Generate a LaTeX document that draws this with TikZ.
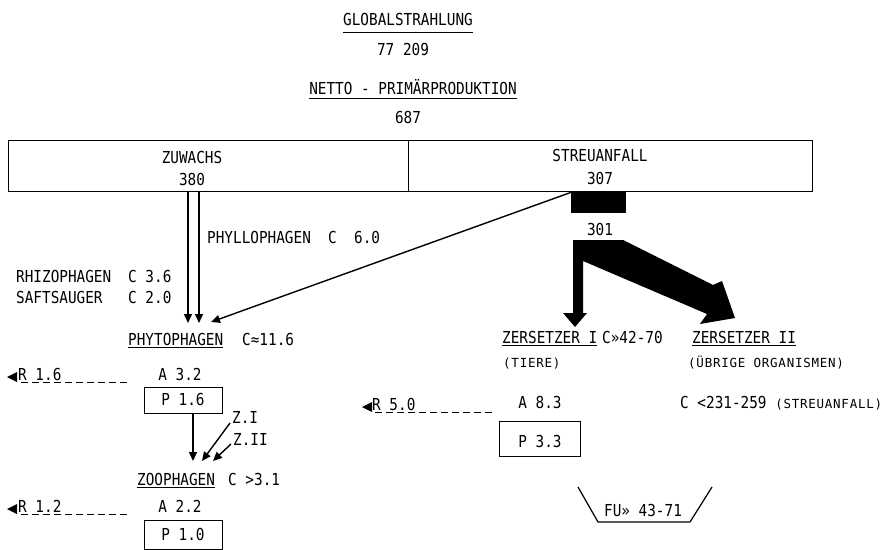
\documentclass[tikz,border=0pt]{standalone}
\usepackage{fontspec}
\setmainfont{DejaVu Sans Mono}[FakeStretch=0.87]
\newfontfamily\scfont{DejaVu Sans Mono}[LetterSpace=6]
\usetikzlibrary{arrows.meta}
\tikzset{
  txt/.style={inner sep=0pt, anchor=base},
  ltxt/.style={inner sep=0pt, anchor=base west},
  sctxt/.style={inner sep=0pt, anchor=base west, font=\scfont\fontsize{12.5}{14}\selectfont},
  frame/.style={draw, line width=1.2pt, inner sep=0pt, anchor=north west},
  arr/.style={line width=1.4pt, -{Triangle[length=9pt,width=8pt]}},
  resp/.style={line width=1pt, dash pattern=on 7pt off 4pt},
  uline/.style={line width=0.9pt}
}
\newcommand{\uline}[2][2]{\draw[uline] ([yshift=-#1pt]#2.base west) -- ([yshift=-#1pt]#2.base east);}
\begin{document}
\begin{tikzpicture}[x=1pt,y=-1pt,font=\fontsize{16.5}{18}\selectfont]
\useasboundingbox (0,0) rectangle (893,549);

% top titles
\node[txt] (glob) at (408,25) {GLOBALSTRAHLUNG};
\uline[7]{glob}
\node[txt] (gval) at (403,55) {77 209};
\node[txt] (npp) at (413,94) {NETTO - PRIMÄRPRODUKTION};
\uline[4]{npp}
\node[txt] (npv) at (408,123) {687};

% big box
\node[frame, minimum width=400pt, minimum height=51pt] (zuwbox) at (8,140) {};
\node[frame, minimum width=404pt, minimum height=51pt] (strbox) at (408,140) {};
\node[txt] (zuw) at (192,163) {ZUWACHS};
\node[txt] (zuwv) at (192,185) {380};
\node[txt] (str) at (600,161) {STREUANFALL};
\node[txt] (strv) at (600,184) {307};

% black block and 301
\node[fill=black, inner sep=0pt, minimum width=55pt, minimum height=22pt, anchor=north west] (blk) at (571,191) {};
\node[txt] (v301) at (600,235) {301};

% thick arrows
\fill (573,240) -- (623,240) -- (713,285) -- (722,281) -- (735,318) -- (700,324) -- (707,314)
      -- (583,261) -- (583,313) -- (587,313) -- (575,327) -- (563,313) -- (573,313) -- cycle;

% phytophagen inflows
\coordinate (a1s) at (188,191); \coordinate (a1e) at (188,323);
\coordinate (a2s) at (199,191); \coordinate (a2e) at (199,323);
\coordinate (a3s) at (572,192); \coordinate (a3e) at (211,322);
\draw[arr] (a1s) -- (a1e);
\draw[arr] (a2s) -- (a2e);
\draw[arr] (a3s) -- (a3e);

\node[ltxt] (phyl) at (207,243) {PHYLLOPHAGEN~~C~~6.0};
\node[ltxt] (rhiz) at (16,282) {RHIZOPHAGEN};
\node[ltxt] (rhizc) at (128,282) {C 3.6};
\node[ltxt] (saft) at (16,303) {SAFTSAUGER};
\node[ltxt] (saftc) at (128,303) {C 2.0};

\node[ltxt] (phyt) at (128,345) {PHYTOPHAGEN};
\uline{phyt}
\node[ltxt] (phytc) at (242,345) {C≈11.6};

% Zersetzer
\node[ltxt] (zs1) at (502,343) {ZERSETZER I};
\uline{zs1}
\node[ltxt] (zs1c) at (602,343) {C»42-70};
\node[ltxt] (zs2) at (692,343) {ZERSETZER II};
\uline{zs2}
\node[sctxt] (tiere) at (503,367) {(TIERE)};
\node[sctxt] (uebr) at (688,367) {(ÜBRIGE ORGANISMEN)};

% phytophagen balance
\node[ltxt] (r16) at (18,380) {R 1.6};
\coordinate (r16e) at (127,382);
\draw[resp] (r16e) -- (r16.base west |- r16e);
\fill (7,377) -- (17,372) -- (17,382) -- cycle;
\node[txt] (a32) at (180,380) {A 3.2};
\node[frame, minimum width=78pt, minimum height=26pt] (p16box) at (144,387) {};
\node[txt] (p16) at (183,405) {P 1.6};

% zoophagen inflows
\coordinate (zpt) at (193,461);
\draw[arr] (p16box.south -| zpt) -- (zpt);
\node[ltxt] (z1) at (232,423) {Z.I};
\node[ltxt] (z2) at (233,445) {Z.II};
\coordinate (z1s) at (230,423); \coordinate (z1e) at (202,461);
\coordinate (z2s) at (231,444); \coordinate (z2e) at (213,461);
\draw[arr] (z1s) -- (z1e);
\draw[arr] (z2s) -- (z2e);

\node[ltxt] (zoo) at (137,485) {ZOOPHAGEN};
\uline{zoo}
\node[ltxt] (zooc) at (228,485) {C >3.1};

% zoophagen balance
\node[ltxt] (r12) at (18,512) {R 1.2};
\coordinate (r12e) at (127,514);
\draw[resp] (r12e) -- (r12.base west |- r12e);
\fill (7,509) -- (17,504) -- (17,514) -- cycle;
\node[txt] (a22) at (180,512) {A 2.2};
\node[frame, minimum width=78pt, minimum height=29pt] (p10box) at (144,520) {};
\node[txt] (p10) at (183,540) {P 1.0};

% zersetzer balance
\node[ltxt] (r50) at (372,410) {R 5.0};
\coordinate (r50e) at (492,412);
\draw[resp] (r50e) -- (r50.base west |- r50e);
\fill (362,407) -- (372,402) -- (372,412) -- cycle;
\node[txt] (a83) at (540,408) {A 8.3};
\node[frame, minimum width=81pt, minimum height=35pt] (p33box) at (499,421) {};
\node[txt] (p33) at (540,447) {P 3.3};
\node[ltxt] (c231) at (680,408) {C <231-259 {\scfont\fontsize{12.5}{14}\selectfont(STREUANFALL)}};

% FU
\coordinate (fu1) at (578,487); \coordinate (fu2) at (598,522);
\coordinate (fu3) at (690,522); \coordinate (fu4) at (712,487);
\draw[line width=1.2pt] (fu1) -- (fu2) -- (fu3) -- (fu4);
\node[txt] (fu) at (643,516) {FU» 43-71};
\end{tikzpicture}
\end{document}
